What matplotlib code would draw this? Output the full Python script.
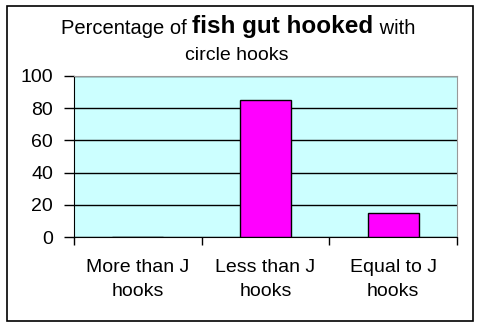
import matplotlib
matplotlib.use("Agg")
import matplotlib.pyplot as plt
from matplotlib.patches import Rectangle
from matplotlib.offsetbox import TextArea, HPacker, AnnotationBbox

categories = ["More than J\nhooks", "Less than J\nhooks", "Equal to J\nhooks"]
values = [0, 85, 15]
yticks = [0, 20, 40, 60, 80, 100]

plt.rcParams['font.family'] = ['Liberation Sans', 'DejaVu Sans']

fig = plt.figure(figsize=(4.82, 3.28), dpi=100)
fig.patch.set_facecolor('white')

# outer frame of the chart
fig.patches.append(Rectangle((7 / 482, 1 - 321 / 328), 466 / 482, 315 / 328,
                             transform=fig.transFigure, fill=False,
                             edgecolor='black', linewidth=1.2))

ax = fig.add_axes([74 / 482, 1 - 237 / 328, 383 / 482, 161 / 328])
ax.set_facecolor('#CCFFFF')

x = list(range(len(categories)))
ax.bar(x, values, width=0.4, color='#FF00FF', edgecolor='black',
       linewidth=1, zorder=3)

ax.set_xlim(-0.5, len(categories) - 0.5)
ax.set_ylim(0, 100)
ax.set_yticks(yticks)
ax.yaxis.grid(True, color='black', linewidth=1, zorder=1)
ax.set_axisbelow(True)

# category boundaries as tick marks
ax.set_xticks([i - 0.5 for i in range(len(categories) + 1)])
ax.set_xticklabels([])
ax.tick_params(axis='x', direction='out', length=6, width=1)
ax.tick_params(axis='y', direction='out', length=7, width=1,
               labelsize=14, pad=8)
trans = ax.get_xaxis_transform()
for i, lab in enumerate(categories):
    line1, line2 = lab.split("\n")
    ax.text(i, -31 / 161, line1, ha='center', va='center', fontsize=14,
            transform=trans)
    ax.text(i, -55 / 161, line2, ha='center', va='center', fontsize=14,
            transform=trans)

ax.spines['top'].set_color('#999999')
ax.spines['right'].set_color('#999999')
ax.spines['left'].set_color('black')
ax.spines['bottom'].set_color('black')

# title with a bold part in the middle
parts = [TextArea("Percentage of ", textprops=dict(fontsize=14.5)),
         TextArea("fish gut hooked", textprops=dict(fontsize=17.5, fontweight='bold')),
         TextArea(" with", textprops=dict(fontsize=14.5))]
box = HPacker(children=parts, align='baseline', pad=0, sep=0)
ab = AnnotationBbox(box, (238 / 482, 1 - 27 / 328), xycoords='figure fraction',
                    frameon=False, box_alignment=(0.5, 0.5))
fig.add_artist(ab)
fig.text(237 / 482, 1 - 55 / 328, "circle hooks", ha='center', va='center',
         fontsize=14)

fig.savefig("out.png", dpi=100)
